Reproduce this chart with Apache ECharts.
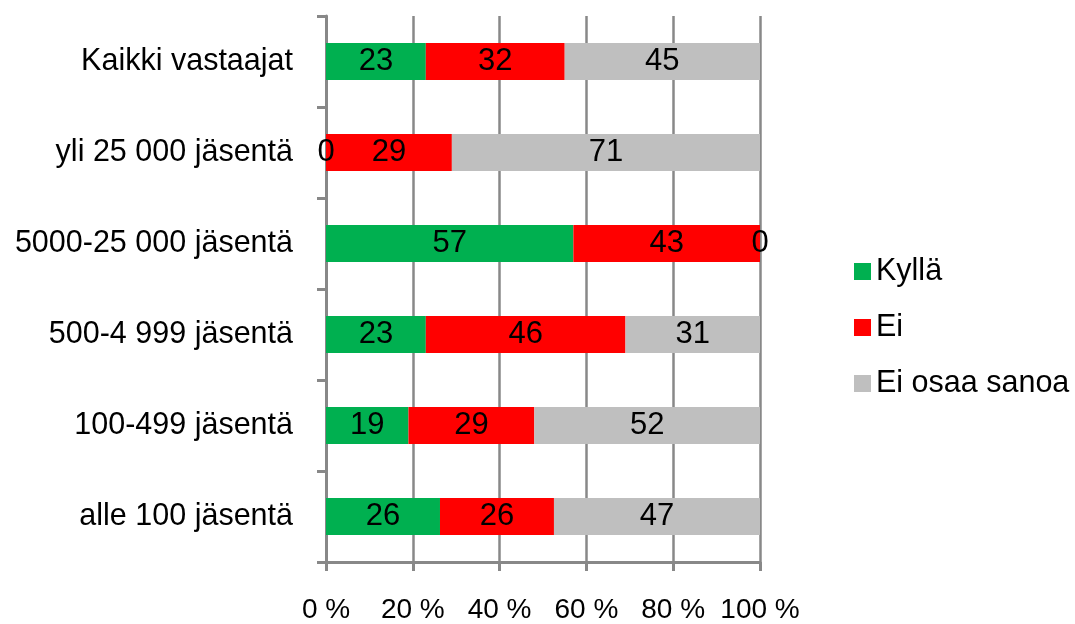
<!DOCTYPE html>
<html>
<head>
<meta charset="utf-8">
<script src="https://cdn.jsdelivr.net/npm/echarts@6/dist/echarts.min.js"></script>
<style>
html,body{margin:0;padding:0;background:#fff;}
#chart{width:1075px;height:624px;}
</style>
</head>
<body>
<div id="chart"></div>
<script>
const categories = ["Kaikki vastaajat", "yli 25 000 jäsentä", "5000-25 000 jäsentä", "500-4 999 jäsentä", "100-499 jäsentä", "alle 100 jäsentä"];
const kylla = [23, 0, 57, 23, 19, 26];
const ei = [32, 29, 43, 46, 29, 26];
const eiOsaa = [45, 71, 0, 31, 52, 47];
const tickLabels = ["0 %", "20 %", "40 %", "60 %", "80 %", "100 %"];

const FONT = "Liberation Sans, Arial, sans-serif";
const rowSum = categories.map((c, i) => kylla[i] + ei[i] + eiOsaa[i]);
function toItems(arr) {
  return arr.map((v, i) => ({ value: v / rowSum[i] * 100, raw: v }));
}
function mkSeries(name, arr, color) {
  return {
    name: name,
    type: 'bar',
    stack: 'total',
    barWidth: 37,
    data: toItems(arr),
    itemStyle: { color: color },
    label: {
      show: true,
      position: 'inside',
      color: '#000',
      fontSize: 31,
      fontFamily: FONT,
      formatter: p => String(p.data.raw)
    },
    emphasis: { disabled: true }
  };
}
const chart = echarts.init(document.getElementById('chart'), null, { renderer: 'canvas' });
chart.setOption({
  animation: false,
  backgroundColor: '#fff',
  grid: { left: 326, right: 315, top: 16, bottom: 59, containLabel: false },
  legend: {
    orient: 'vertical',
    left: 849,
    top: 251,
    itemWidth: 17,
    itemHeight: 17,
    itemGap: 25,
    icon: 'rect',
    textStyle: { fontSize: 30.5, fontFamily: FONT, color: '#000' },
    data: ['Kyllä', 'Ei', 'Ei osaa sanoa']
  },
  xAxis: {
    type: 'value',
    min: 0,
    max: 100,
    interval: 20,
    axisLine: { show: true, lineStyle: { color: '#888', width: 3 } },
    axisTick: { show: true, length: 9, lineStyle: { color: '#888', width: 3 } },
    splitLine: { show: true, lineStyle: { color: '#888', width: 2.5 } },
    axisLabel: {
      fontSize: 28, fontFamily: FONT, color: '#000', margin: 34,
      formatter: (v) => tickLabels[Math.round(v / 20)]
    }
  },
  yAxis: {
    type: 'category',
    inverse: true,
    data: categories,
    axisLine: { show: true, lineStyle: { color: '#888', width: 3 } },
    axisTick: { show: true, length: 9, lineStyle: { color: '#888', width: 3 } },
    axisLabel: { fontSize: 30.5, fontFamily: FONT, color: '#000', margin: 33 }
  },
  series: [
    mkSeries('Kyllä', kylla, '#00b050'),
    mkSeries('Ei', ei, '#ff0000'),
    mkSeries('Ei osaa sanoa', eiOsaa, '#bfbfbf')
  ]
});
</script>
</body>
</html>
